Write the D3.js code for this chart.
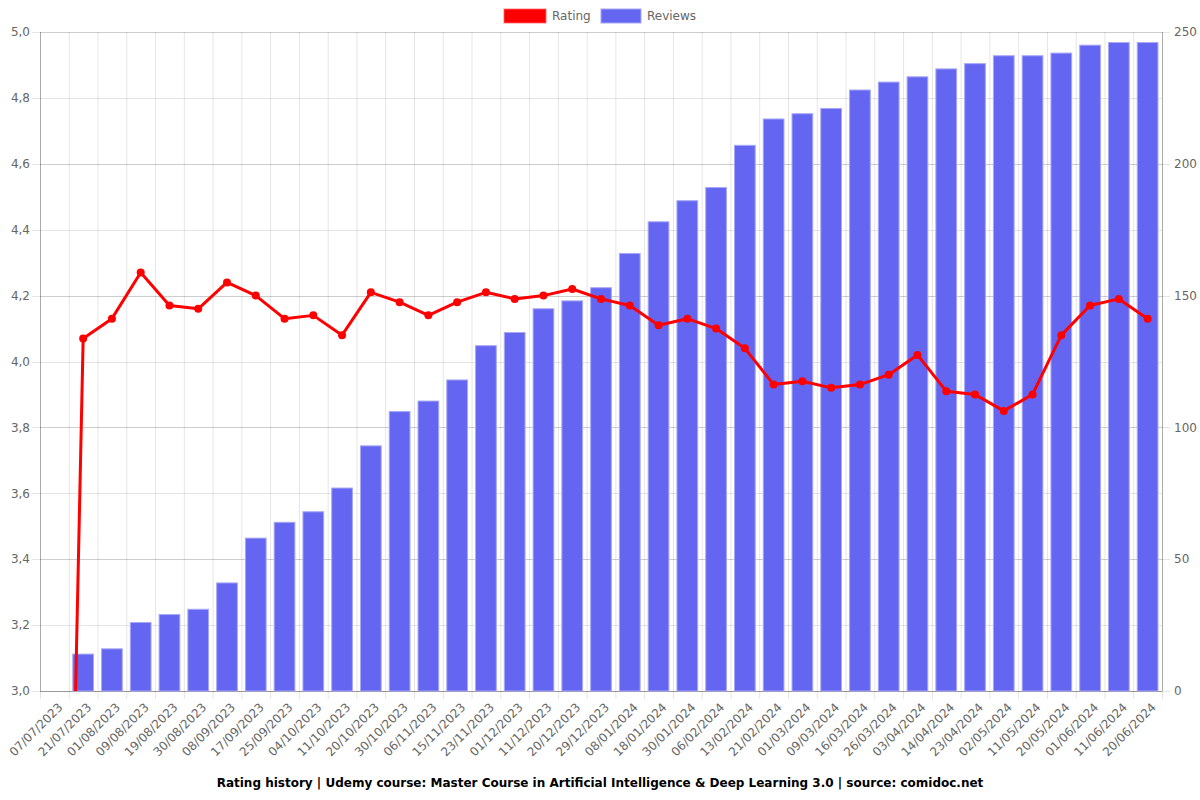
<!DOCTYPE html>
<html>
<head>
<meta charset="utf-8">
<script src="https://cdn.jsdelivr.net/npm/d3@7/dist/d3.min.js"></script>
<style>
  html, body { margin: 0; padding: 0; background: #fff; }
  svg { display: block; font-family: "DejaVu Sans", sans-serif; }
</style>
</head>
<body>
<svg id="chart" width="1200" height="800"></svg>
<script>
const dates = ["07/07/2023","21/07/2023","01/08/2023","09/08/2023","19/08/2023","30/08/2023","08/09/2023","17/09/2023","25/09/2023","04/10/2023","11/10/2023","20/10/2023","30/10/2023","06/11/2023","15/11/2023","23/11/2023","01/12/2023","11/12/2023","20/12/2023","29/12/2023","08/01/2024","18/01/2024","30/01/2024","06/02/2024","13/02/2024","21/02/2024","01/03/2024","09/03/2024","16/03/2024","26/03/2024","03/04/2024","14/04/2024","23/04/2024","02/05/2024","11/05/2024","20/05/2024","01/06/2024","11/06/2024","20/06/2024"];
const rating = [0,4.07,4.13,4.27,4.17,4.16,4.24,4.20,4.13,4.14,4.08,4.21,4.18,4.14,4.18,4.21,4.19,4.20,4.22,4.19,4.17,4.11,4.13,4.10,4.04,3.93,3.94,3.92,3.93,3.96,4.02,3.91,3.90,3.85,3.90,4.08,4.17,4.19,4.13];
const reviews = [0,14,16,26,29,31,41,58,64,68,77,93,106,110,118,131,136,145,148,153,166,178,186,191,207,217,219,221,228,231,233,236,238,241,241,242,245,246,246];
const leftTicks = [3.0,3.2,3.4,3.6,3.8,4.0,4.2,4.4,4.6,4.8,5.0];
const rightTicks = [0,50,100,150,200,250];
const seriesNames = ["Rating","Reviews"];
const title = "Rating history | Udemy course: Master Course in Artificial Intelligence & Deep Learning 3.0 | source: comidoc.net";

const W = 1200, H = 800;
const m = {left: 40, right: 1162, top: 32, bottom: 691};
const svg = d3.select("#chart");
const gridColor = "rgba(0,0,0,0.1)";
const textColor = "#666";

const x = d3.scaleBand().domain(dates).range([m.left, m.right]).padding(0);
const yL = d3.scaleLinear().domain([3, 5]).range([m.bottom, m.top]);
const yR = d3.scaleLinear().domain([0, 250]).range([m.bottom, m.top]);

const comma = v => d3.format(".1f")(v).replace(".", ",");

// vertical grid (band boundaries) with tick extensions
const vEdges = dates.map(d => x(d)).concat([m.right]);
svg.append("g").selectAll("line").data(vEdges).join("line")
  .attr("x1", d => d + 0.5).attr("x2", d => d + 0.5)
  .attr("y1", m.top).attr("y2", m.bottom + 8)
  .attr("stroke", gridColor).attr("stroke-width", 1);

// horizontal grid left
svg.append("g").selectAll("line").data(leftTicks).join("line")
  .attr("x1", m.left - 8).attr("x2", m.right)
  .attr("y1", d => Math.round(yL(d)) + 0.5).attr("y2", d => Math.round(yL(d)) + 0.5)
  .attr("stroke", gridColor);
// horizontal grid right
svg.append("g").selectAll("line").data(rightTicks).join("line")
  .attr("x1", m.left).attr("x2", m.right + 8)
  .attr("y1", d => Math.round(yR(d)) + 0.5).attr("y2", d => Math.round(yR(d)) + 0.5)
  .attr("stroke", gridColor);

// axes lines
svg.append("line").attr("x1", m.left + 0.5).attr("x2", m.left + 0.5).attr("y1", m.top).attr("y2", m.bottom)
  .attr("stroke", "rgba(0,0,0,0.25)");
svg.append("line").attr("x1", m.right + 0.5).attr("x2", m.right + 0.5).attr("y1", m.top).attr("y2", m.bottom)
  .attr("stroke", "rgba(0,0,0,0.25)");
svg.append("line").attr("x1", m.left).attr("x2", m.right).attr("y1", m.bottom + 0.5).attr("y2", m.bottom + 0.5)
  .attr("stroke", "rgba(0,0,0,0.25)");

// left axis labels
svg.append("g").selectAll("text").data(leftTicks).join("text")
  .attr("x", m.left - 10).attr("y", d => yL(d)).attr("dy", "0.35em")
  .attr("text-anchor", "end").attr("font-size", 12).attr("fill", textColor)
  .text(d => comma(d));
// right axis labels
svg.append("g").selectAll("text").data(rightTicks).join("text")
  .attr("x", m.right + 12).attr("y", d => yR(d)).attr("dy", "0.35em")
  .attr("text-anchor", "start").attr("font-size", 12).attr("fill", textColor)
  .text(d => d);

// x labels
svg.append("g").selectAll("text").data(dates).join("text")
  .attr("transform", d => `translate(${x(d) + x.bandwidth()/2 + 6},${m.bottom + 14}) rotate(-45)`)
  .attr("text-anchor", "end").attr("dy", "0.35em")
  .attr("font-size", 12).attr("fill", textColor)
  .text(d => d);

// bars
const bw = x.bandwidth() * 0.72;
svg.append("g").selectAll("rect").data(reviews.map((v, i) => ({d: dates[i], v}))).join("rect")
  .filter(d => d.v > 0)
  .attr("x", d => x(d.d) + (x.bandwidth() - bw) / 2)
  .attr("width", bw)
  .attr("y", d => yR(d.v))
  .attr("height", d => yR(0) - yR(d.v))
  .attr("fill", "#6466f1")
  .attr("stroke", "#a7a8f6").attr("stroke-width", 1);

// clip
svg.append("clipPath").attr("id", "clip").append("rect")
  .attr("x", m.left).attr("y", m.top - 10).attr("width", m.right - m.left).attr("height", m.bottom - m.top + 10);

const pts = rating.map((v, i) => [x(dates[i]) + x.bandwidth()/2, yL(v)]);
const lg = svg.append("g").attr("clip-path", "url(#clip)");
lg.append("path").datum(pts)
  .attr("d", d3.line())
  .attr("fill", "none").attr("stroke", "#ff0000").attr("stroke-width", 3).attr("stroke-linejoin", "round");
lg.selectAll("circle").data(pts).join("circle")
  .attr("cx", d => d[0]).attr("cy", d => d[1]).attr("r", 4)
  .attr("fill", "#ff0000");

// legend
const legend = svg.append("g");
legend.append("rect").attr("x", 504).attr("y", 9).attr("width", 42).attr("height", 14).attr("fill", "#ff0000")
  .attr("stroke", "rgba(255,100,100,0.8)");
legend.append("text").attr("x", 552).attr("y", 16).attr("dy", "0.35em").attr("font-size", 12).attr("fill", textColor).text(seriesNames[0]);
legend.append("rect").attr("x", 601).attr("y", 9).attr("width", 40).attr("height", 14).attr("fill", "#6466f1")
  .attr("stroke", "#a7a8f6");
legend.append("text").attr("x", 647).attr("y", 16).attr("dy", "0.35em").attr("font-size", 12).attr("fill", textColor).text(seriesNames[1]);

// title
svg.append("text").attr("x", 600).attr("y", 783).attr("dy", "0.35em").attr("text-anchor", "middle")
  .attr("font-size", 12).attr("font-weight", "bold").attr("fill", "#000").text(title);
</script>
</body>
</html>
